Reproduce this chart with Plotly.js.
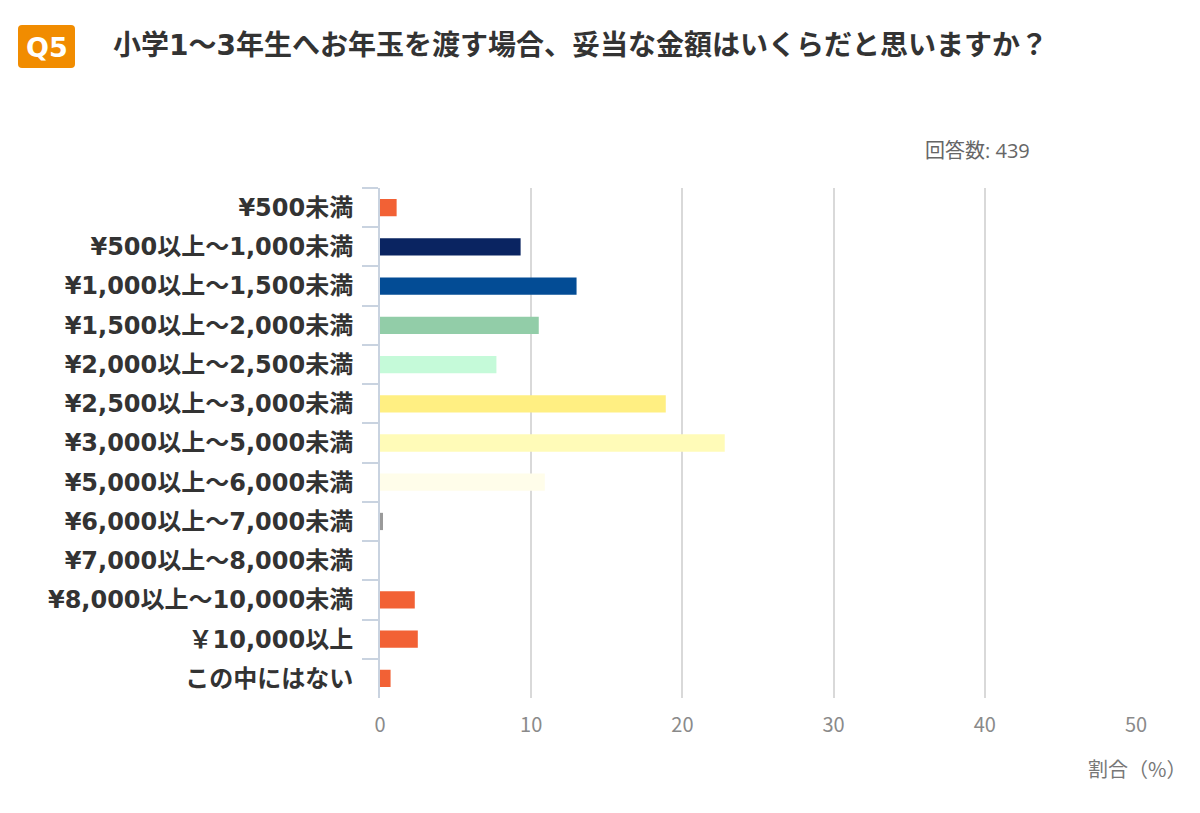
<!DOCTYPE html>
<html>
<head>
<meta charset="utf-8">
<script src="https://cdn.plot.ly/plotly-3.0.1.min.js"></script>
<style>
html,body{margin:0;padding:0;background:#fff;}
#chart{width:1200px;height:813px;}
</style>
</head>
<body>
<div id="chart"></div>
<script>
const categories = [
  "¥500未満",
  "¥500以上～1,000未満",
  "¥1,000以上～1,500未満",
  "¥1,500以上～2,000未満",
  "¥2,000以上～2,500未満",
  "¥2,500以上～3,000未満",
  "¥3,000以上～5,000未満",
  "¥5,000以上～6,000未満",
  "¥6,000以上～7,000未満",
  "¥7,000以上～8,000未満",
  "¥8,000以上～10,000未満",
  "￥10,000以上",
  "この中にはない"
];
const values = [1.1, 9.3, 13.0, 10.5, 7.7, 18.9, 22.8, 10.9, 0.2, 0, 2.3, 2.5, 0.7];
const barColors = ["#F26135", "#0A2461", "#034C95", "#92CDA8", "#C5FAD9", "#FFEF82", "#FFFBB8", "#FFFDEA", "#9A9A9A", "#F26135", "#F26135", "#F26135", "#F26135"];
const xTicks = [0, 10, 20, 30, 40, 50];
const titleText = "小学1～3年生へお年玉を渡す場合、妥当な金額はいくらだと思いますか？";
const badgeText = "Q5";
const countText = "回答数: 439";
const xTitleText = "割合（%）";

const FONT = "DejaVu Sans, Noto Sans CJK JP, sans-serif";
const LIGHTFONT = "Noto Sans CJK JP, sans-serif";

const trace = {
  type: "bar",
  orientation: "h",
  x: values,
  y: categories,
  marker: {color: barColors, line: {width: 0}},
  width: 0.44,
  hoverinfo: "none"
};

function px2x(px){ return (px - 380) / 756; }
function py2y(py){ return (813 - 115 - py) / 510; }

const layout = {
  width: 1200,
  height: 813,
  paper_bgcolor: "#ffffff",
  plot_bgcolor: "#ffffff",
  margin: {l: 380, r: 64, t: 188, b: 115},
  showlegend: false,
  xaxis: {
    range: [0, 50],
    tickvals: xTicks,
    ticktext: xTicks.map(String),
    showgrid: true,
    gridcolor: "#d9d9d9",
    gridwidth: 2,
    zeroline: false,
    showline: false,
    ticks: "",
    ticklabelstandoff: 13,
    tickfont: {family: LIGHTFONT, size: 20, color: "#8a8a8a"},
    fixedrange: true
  },
  yaxis: {
    type: "category",
    autorange: "reversed",
    showgrid: false,
    zeroline: false,
    showline: true,
    linecolor: "#c9d3e0",
    linewidth: 2,
    ticks: "outside",
    tickson: "boundaries",
    ticklen: 16,
    tickcolor: "#c9d3e0",
    tickwidth: 2,
    ticklabelstandoff: 20,
    tickfont: {family: FONT, size: 24, color: "#333333", weight: "bold"},
    fixedrange: true
  },
  annotations: [
    {text: countText, xref: "paper", yref: "paper", x: px2x(1032), y: py2y(150), xanchor: "right", yanchor: "middle", showarrow: false, font: {family: "Open Sans, Noto Sans CJK JP, sans-serif", size: 20, color: "#666666"}},
    {text: xTitleText, xref: "paper", yref: "paper", x: px2x(1188), y: py2y(768), xanchor: "right", yanchor: "middle", showarrow: false, font: {family: LIGHTFONT, size: 20, color: "#777777"}},
    {text: titleText, xref: "paper", yref: "paper", x: px2x(111), y: py2y(45), xanchor: "left", yanchor: "middle", showarrow: false, font: {family: FONT, size: 28, color: "#333333", weight: "bold"}},
    {text: badgeText, xref: "paper", yref: "paper", x: px2x(46.5), y: py2y(47), xanchor: "center", yanchor: "middle", showarrow: false, font: {family: FONT, size: 27, color: "#ffffff", weight: "bold"}}
  ]
};

const bx0 = px2x(18), bx1 = px2x(75), by0 = py2y(68), by1 = py2y(25);
const r = 4 / 756, ry = 4 / 510;
layout.shapes = [{
  type: "path", xref: "paper", yref: "paper",
  path: `M ${bx0 + r} ${by0} L ${bx1 - r} ${by0} Q ${bx1} ${by0} ${bx1} ${by0 + ry} L ${bx1} ${by1 - ry} Q ${bx1} ${by1} ${bx1 - r} ${by1} L ${bx0 + r} ${by1} Q ${bx0} ${by1} ${bx0} ${by1 - ry} L ${bx0} ${by0 + ry} Q ${bx0} ${by0} ${bx0 + r} ${by0} Z`,
  fillcolor: "#F18C00", line: {width: 0}, layer: "below"
}];

Plotly.newPlot("chart", [trace], layout, {displayModeBar: false, staticPlot: true});
</script>
</body>
</html>
